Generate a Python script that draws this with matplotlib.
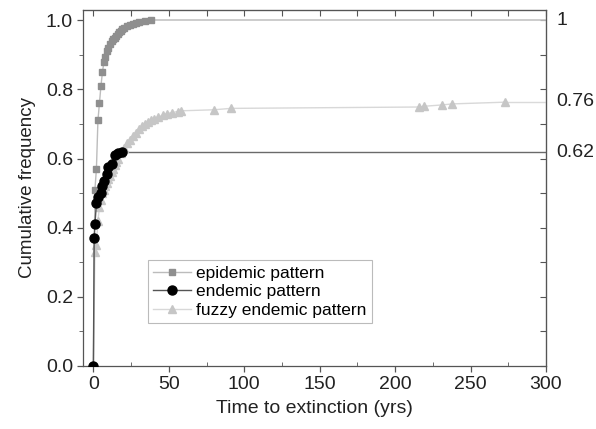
import matplotlib
matplotlib.use('Agg')
from matplotlib import pyplot as plt
from matplotlib.ticker import MultipleLocator

plt.rcParams['font.family'] = ['Liberation Sans', 'DejaVu Sans']

# epidemic pattern
ep_x = [0, 1, 2, 3, 4, 5, 6, 7, 8, 9, 10, 11, 12, 13, 14, 15, 16, 17, 18, 19,
        20, 22, 24, 26, 28, 30, 34, 38]
ep_y = [0, 0.51, 0.57, 0.71, 0.76, 0.81, 0.85, 0.88, 0.895, 0.91, 0.92, 0.93,
        0.94, 0.945, 0.95, 0.955, 0.96, 0.965, 0.97, 0.975, 0.978, 0.983,
        0.987, 0.99, 0.993, 0.995, 0.998, 1.0]

# endemic pattern
en_x = [0, 0.5, 1, 2, 3, 5, 6, 7, 9, 10, 12, 14, 16, 19]
en_y = [0, 0.37, 0.41, 0.47, 0.49, 0.50, 0.52, 0.535, 0.555,
        0.575, 0.585, 0.61, 0.615, 0.62]

# fuzzy endemic pattern
fz_x = [0, 1, 2, 3, 4, 5, 6, 7, 8, 9, 10, 11, 12, 13, 14, 15, 16, 18, 20, 22,
        24, 26, 28, 30, 32, 34, 36, 38, 40, 43, 46, 49, 52, 56, 58, 80, 91,
        216, 219, 231, 238, 273]
fz_y = [0, 0.33, 0.35, 0.42, 0.46, 0.48, 0.50, 0.51, 0.52, 0.53, 0.54, 0.55,
        0.56, 0.57, 0.58, 0.59, 0.60, 0.615, 0.63, 0.645, 0.655, 0.665, 0.675,
        0.685, 0.695, 0.70, 0.705, 0.71, 0.715, 0.72, 0.725, 0.73, 0.733,
        0.736, 0.738, 0.741, 0.745, 0.749, 0.751, 0.755, 0.758, 0.763]

x_end = 300
end_labels = ['1', '0.76', '0.62']
end_vals = [1.0, 0.766, 0.618]

fig = plt.figure(figsize=(5.96, 4.29), dpi=100)
ax = fig.add_axes([0.139, 0.147, 0.777, 0.83])

# plateau lines to the end of the axis
ax.plot([fz_x[-1], x_end], [fz_y[-1], fz_y[-1]], color='#dadada', lw=1, zorder=1)
ax.plot([ep_x[-1], x_end], [ep_y[-1], ep_y[-1]], color='#c4c4c4', lw=1.2, zorder=1)
ax.plot([en_x[-1], x_end], [en_y[-1], en_y[-1]], color='#6a6a6a', lw=1, zorder=1)

ax.plot(ep_x, ep_y, color='#bcbcbc', lw=1, marker='s', ms=5,
        mfc='#8f8f8f', mec='#8f8f8f', label='epidemic pattern', zorder=3)
ax.plot(fz_x, fz_y, color='#d8d8d8', lw=1, marker='^', ms=6,
        mfc='#c6c6c6', mec='#c6c6c6', label='fuzzy endemic pattern', zorder=2)
ax.plot(en_x, en_y, color='#555555', lw=1, marker='o', ms=6.5,
        mfc='black', mec='black', label='endemic pattern', zorder=4)

ax.set_xlim(-7, 300)
ax.set_ylim(0, 1.03)
ax.xaxis.set_major_locator(MultipleLocator(50))
ax.xaxis.set_minor_locator(MultipleLocator(25))
ax.yaxis.set_major_locator(MultipleLocator(0.2))
ax.yaxis.set_minor_locator(MultipleLocator(0.1))
ax.yaxis.set_major_formatter(plt.FuncFormatter(lambda v, p: '%.1f' % v))

for s in ax.spines.values():
    s.set_color('#555555')
    s.set_linewidth(0.9)

ax.tick_params(axis='both', which='major', labelsize=14, colors='#555555',
               labelcolor='#222222', width=0.9, pad=3)
ax.tick_params(axis='x', which='major', direction='out', length=4)
ax.tick_params(axis='x', which='minor', direction='in', length=3, colors='#555555')
ax.tick_params(axis='y', which='major', direction='out', length=4)
ax.tick_params(axis='y', which='minor', direction='out', length=3, colors='#555555')

top = ax.secondary_xaxis('top')
top.xaxis.set_major_locator(MultipleLocator(25))
top.tick_params(direction='in', length=4, labeltop=False, colors='#555555')
top.spines['top'].set_color('#555555')
right = ax.secondary_yaxis('right')
right.yaxis.set_major_locator(MultipleLocator(0.1))
right.tick_params(direction='in', length=4, labelright=False, colors='#555555')
right.spines['right'].set_color('#555555')

for lab, v in zip(end_labels, end_vals):
    ax.text(1.022, v, lab, transform=ax.get_yaxis_transform(), fontsize=14,
            color='#222222', va='center', ha='left')

ax.set_xlabel('Time to extinction (yrs)', fontsize=14, color='#222222', labelpad=5)
ax.set_ylabel('Cumulative frequency', fontsize=13.5, color='#222222', labelpad=7)

handles, labels = ax.get_legend_handles_labels()
order = [0, 2, 1]
leg = ax.legend([handles[i] for i in order], [labels[i] for i in order],
                loc='lower left', bbox_to_anchor=(0.14, 0.12), fontsize=12.5,
                frameon=True, fancybox=False, handlelength=2.2,
                handletextpad=0.3, borderpad=0.3, labelspacing=0.2,
                borderaxespad=0)
leg.get_frame().set_edgecolor('#aaaaaa')
leg.get_frame().set_linewidth(0.8)

fig.savefig('out.png', dpi=100)
